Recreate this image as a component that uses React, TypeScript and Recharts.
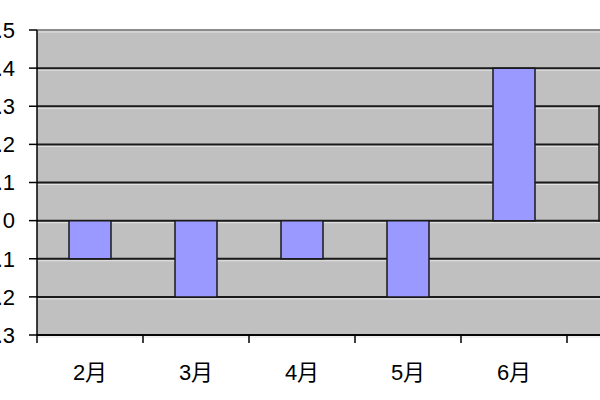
import React from 'react';
import { BarChart, Bar, XAxis, YAxis, CartesianGrid, ReferenceLine } from 'recharts';

const months = ['2月', '3月', '4月', '5月', '6月', '7月'];
const values = [-0.1, -0.2, -0.1, -0.2, 0.4, 0.3];
const yTicks = [-0.3, -0.2, -0.1, 0, 0.1, 0.2, 0.3, 0.4, 0.5];

const data = months.map((m, i) => ({ month: m, value: values[i] }));

const FONT = '"Liberation Sans", Arial, "Noto Sans CJK SC", sans-serif';

const fmtY = (v: number) => (v === 0 ? '0' : v.toFixed(1));

// month label, with the tick mark drawn at the left edge of the category
const MonthTick = (props: any) => {
  const { x, y, payload } = props;
  const half = payload && payload.offset ? payload.offset : 53;
  const axisY = y - 29;
  return (
    <g>
      <line x1={x - half} x2={x - half} y1={axisY} y2={axisY + 8} stroke="#000" strokeWidth={1.5} />
      <text x={x} y={y} dy="0.71em" textAnchor="middle" fontSize={22} fontFamily={FONT} fill="#000">
        {payload.value}
      </text>
    </g>
  );
};

const gridLine = (p: any) => (
  <g key={p.key}>
    <line x1={p.x1} x2={p.x2} y1={p.y1} y2={p.y2} stroke="#1a1a1a" strokeWidth={2} />
    <line x1={p.x1} x2={p.x2} y1={p.y1 + 2} y2={p.y2 + 2} stroke="#e4e4e4" strokeWidth={1} />
  </g>
);

export default function App() {
  return (
    <div style={{ position: 'fixed', left: 0, top: 0, width: 600, height: 400, overflow: 'hidden', background: '#fff' }}>
      <div style={{ position: 'absolute', left: -40, top: 0 }}>
        <BarChart width={723} height={400} data={data} margin={{ top: 30, right: 10, bottom: 0, left: 0 }}>
          <CartesianGrid fill="#c0c0c0" vertical={false} horizontal={gridLine} />
          <ReferenceLine y={0.5} stroke="#8c8c8c" strokeWidth={2} />
          <XAxis
            dataKey="month"
            height={65}
            tickLine={false}
            tickSize={8}
            tickMargin={21}
            axisLine={{ stroke: '#000', strokeWidth: 1.5 }}
            tick={<MonthTick />}
            interval={0}
          />
          <YAxis
            width={77}
            domain={[-0.3, 0.5]}
            ticks={yTicks}
            tickFormatter={fmtY}
            tickSize={8}
            tickMargin={14}
            axisLine={{ stroke: '#000', strokeWidth: 1.5 }}
            tickLine={{ stroke: '#000', strokeWidth: 1.5 }}
            tick={{ fontSize: 22, fontFamily: FONT, fill: '#000' }}
            allowDataOverflow
          />
          <Bar dataKey="value" barSize={42} fill="#9999ff" stroke="#1a1a1a" strokeWidth={1.5} isAnimationActive={false} />
        </BarChart>
      </div>
    </div>
  );
}
